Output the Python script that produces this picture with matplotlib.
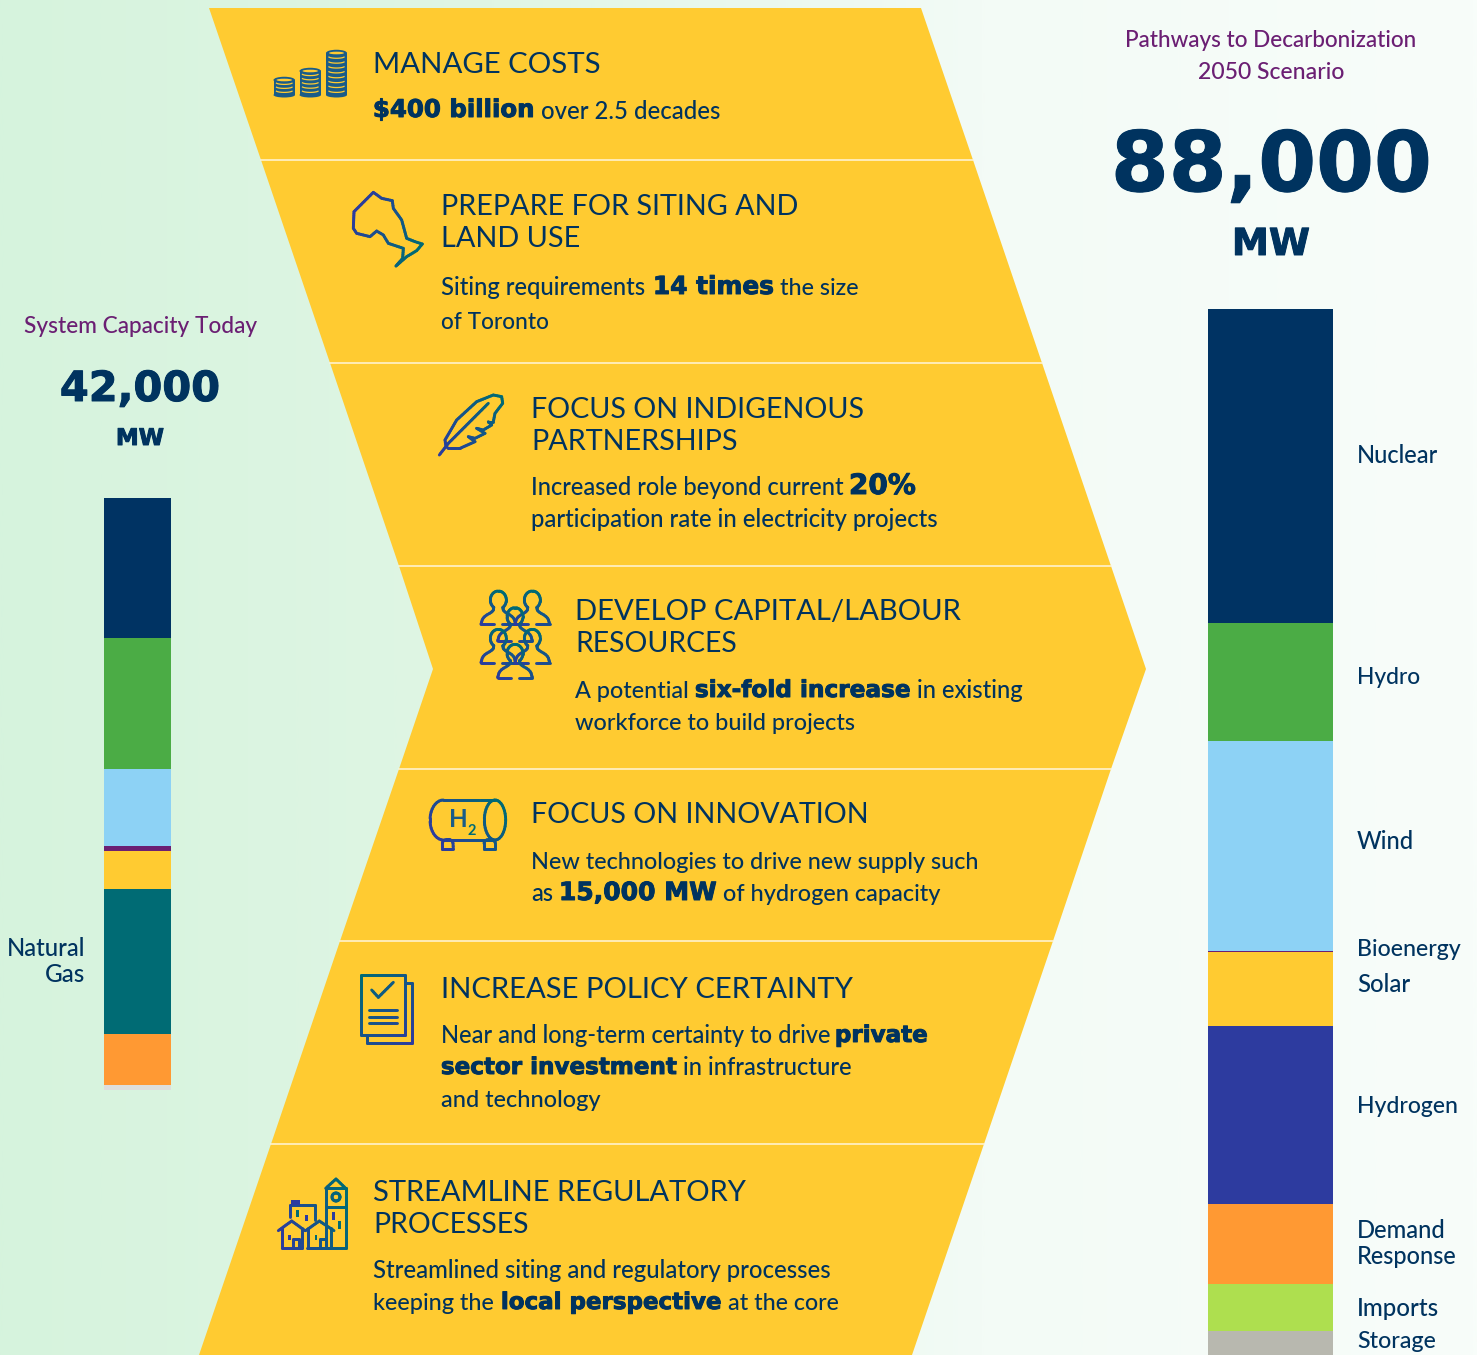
import numpy as np
import matplotlib
matplotlib.use("Agg")
import matplotlib.pyplot as plt
import matplotlib.patheffects as pe
from matplotlib.colors import LinearSegmentedColormap, to_rgb
from matplotlib.collections import LineCollection
from matplotlib.patches import Polygon, Rectangle, Ellipse

# ---------- data ----------
today_sources = ["Nuclear", "Hydro", "Wind", "Bioenergy", "Solar", "Natural Gas", "Demand Response", "Storage"]
today_mw = [9950, 9300, 5450, 350, 2700, 10300, 3600, 350]
future_sources = ["Nuclear", "Hydro", "Wind", "Bioenergy", "Solar", "Hydrogen", "Demand Response", "Imports", "Storage"]
future_mw = [26400, 9950, 17650, 100, 6200, 15000, 6700, 4000, 2000]
today_total_label = "42,000"
future_total_label = "88,000"

# ---------- styles ----------
W, H = 1477, 1355
NAVY = "#00335F"
PURPLE = "#6B1F73"
YELLOW = "#FFCB31"
BLUE = "#2D3B9F"
TEAL = "#006B74"
colors = {"Nuclear": "#003363", "Hydro": "#4BAC45", "Wind": "#8DD2F5", "Bioenergy": PURPLE,
          "Solar": YELLOW, "Natural Gas": TEAL, "Hydrogen": BLUE, "Demand Response": "#FF9933",
          "Imports": "#AEDF4F"}
FONT = "Lato"

fig = plt.figure(figsize=(W / 100, H / 100), dpi=100)

# background gradient
bg = fig.add_axes([0, 0, 1, 1], zorder=0)
cmap = LinearSegmentedColormap.from_list("bg", ["#D6F3DD", "#E0F6E5", "#F3FBF6", "#F8FDFA"])
bg.imshow(np.linspace(0, 1, 512)[None, :], aspect="auto", cmap=cmap, extent=(0, 1, 0, 1))
bg.axis("off")

# pixel-space layer
ax = fig.add_axes([0, 0, 1, 1], zorder=2)
ax.set_xlim(0, W)
ax.set_ylim(H, 0)
ax.axis("off")
ax.patch.set_alpha(0)
renderer = fig.canvas.get_renderer()


def stacked(x0, x1, y0, y1, names, values, storage_color):
    a = fig.add_axes([x0 / W, 1 - y1 / H, (x1 - x0) / W, (y1 - y0) / H], zorder=3)
    bottom = 0
    for n, v in zip(names, values):
        c = storage_color if n == "Storage" else colors[n]
        a.bar(0, v, width=1, bottom=bottom, color=c, linewidth=0)
        bottom += v
    a.set_xlim(-0.5, 0.5)
    a.set_ylim(sum(values), 0)
    a.axis("off")


stacked(104, 171, 498, 1090, today_sources, today_mw, "#DEDEDC")
stacked(1208, 1333, 309, 1355, future_sources, future_mw, "#B8B8AF")

# chevron bands
left_edge = [(209, 8), (261, 160), (330, 363), (399, 566), (433, 669), (399, 769), (340, 941), (271, 1144), (199, 1355)]
right_edge = [(921, 8), (973, 160), (1042, 363), (1111, 566), (1146, 669), (1111, 769), (1053, 941), (984, 1144), (912, 1355)]
ax.add_patch(Polygon(left_edge + right_edge[::-1], closed=True, fc=YELLOW, ec="none", zorder=1))
for i in (1, 2, 3, 5, 6, 7):
    ax.plot([left_edge[i][0], right_edge[i][0]], [left_edge[i][1] - 0.4] * 2, color="#FFF6DA", lw=1.1, zorder=2)


def fit(x0, x1, base, s, guess, color=NAVY, weight="medium", heavy=False):
    t = ax.text(x0 - 0.1, base + 1, s, fontsize=guess, color=color,
                family="DejaVu Sans" if heavy else FONT, fontweight="bold" if heavy else weight,
                ha="left", va="baseline", zorder=6)
    w = t.get_window_extent(renderer).width
    t.set_fontsize(guess * (x1 - x0) / w)
    if heavy:
        t.set_path_effects([pe.withStroke(linewidth=0.7, foreground=color)])
    return t


HEAD, BODY, HEAVY = 20, 16.5, 20

headers = [
    (373, 600, 72, "MANAGE COSTS"),
    (441, 797, 214, "PREPARE FOR SITING AND"), (441, 580, 246, "LAND USE"),
    (531, 863, 417, "FOCUS ON INDIGENOUS"), (531, 737, 449, "PARTNERSHIPS"),
    (575, 960, 619, "DEVELOP CAPITAL/LABOUR"), (575, 736, 651, "RESOURCES"),
    (531, 867, 822, "FOCUS ON INNOVATION"),
    (441, 854, 997, "INCREASE POLICY CERTAINTY"),
    (373, 746, 1200, "STREAMLINE REGULATORY"), (373, 528, 1232, "PROCESSES"),
]
for r in headers:
    fit(*r, HEAD, weight="regular")

body = [
    (541, 719, 118, "over 2.5 decades"),
    (441, 645, 294, "Siting requirements"), (780, 859, 294, "the size"), (441, 549, 328, "of Toronto"),
    (531, 843, 494, "Increased role beyond current"), (531, 938, 526, "participation rate in electricity projects"),
    (575, 689, 697, "A potential"), (917, 1023, 697, "in existing"), (575, 855, 729, "workforce to build projects"),
    (531, 978, 868, "New technologies to drive new supply such"), (531, 553, 900, "as"), (723, 940, 900, "of hydrogen capacity"),
    (441, 829, 1042, "Near and long-term certainty to drive"), (683, 852, 1074, "in infrastructure"), (441, 600, 1106, "and technology"),
    (373, 831, 1277, "Streamlined siting and regulatory processes"), (373, 494, 1309, "keeping the"), (728, 839, 1309, "at the core"),
]
for r in body:
    fit(*r, BODY)

heavy = [
    (373, 535, 116, "$400 billion"), (653, 774, 293, "14 times"), (849, 916, 493, "20%"),
    (695, 911, 696, "six-fold increase"), (559, 717, 899, "15,000 MW"), (835, 928, 1041, "private"),
    (441, 677, 1073, "sector investment"), (501, 722, 1308, "local perspective"),
]
for r in heavy:
    fit(*r, HEAVY, heavy=True)

# side titles
fit(24, 257, 332, "System Capacity Today", 16.5, PURPLE)
fit(60, 220, 400, today_total_label, 30, heavy=True)
fit(116, 164, 444, "MW", 18, heavy=True)
fit(1125, 1417, 46, "Pathways to Decarbonization", 16.5, PURPLE)
fit(1198, 1344, 78, "2050 Scenario", 16.5, PURPLE)
fit(1111, 1432, 190, future_total_label, 60, heavy=True)
fit(1232, 1310, 254, "MW", 30, heavy=True)

# source labels
today_labels = ["Natural", "Gas"]
today_label_pos = [(7, 85, 955), (45, 85, 981)]
future_labels = ["Nuclear", "Hydro", "Wind", "Bioenergy", "Solar", "Hydrogen", "Demand", "Response", "Imports", "Storage"]
future_label_pos = [(1357, 1438, 462), (1357, 1420, 683), (1357, 1414, 848), (1357, 1461, 955), (1357, 1410, 991),
                    (1357, 1458, 1112), (1357, 1445, 1237), (1357, 1457, 1263), (1357, 1439, 1315), (1357, 1436, 1347)]
for s, p in zip(today_labels + future_labels, today_label_pos + future_label_pos):
    fit(*p, s, 16.5)


# ---------- icons ----------
c0, c1 = np.array(to_rgb(BLUE)), np.array(to_rgb(TEAL))


def chaikin(p, n=2):
    p = np.asarray(p, float)
    for _ in range(n):
        l = np.stack([0.75 * p[:-1] + 0.25 * p[1:], 0.25 * p[:-1] + 0.75 * p[1:]], 1).reshape(-1, 2)
        p = np.vstack([p[:1], l, p[-1:]])
    return p


def icon(paths, origin, direction, lw=2.1, scale=3.0, z=5):
    """Draw polylines given in zoom-pixels, coloured with a blue-to-teal gradient."""
    o = np.array(origin, float)
    d = np.array(direction, float)
    P = [o + np.asarray(p, float) / scale for p in paths]
    allp = np.vstack(P)
    pr = allp @ d
    lo, hi = pr.min(), pr.max()
    segs, cols = [], []
    for p in P:
        for a, b in zip(p[:-1], p[1:]):
            n = max(1, int(np.hypot(*(b - a)) / 2))
            for k in range(n):
                s0 = a + (b - a) * k / n
                s1 = a + (b - a) * (k + 1) / n
                t = (((s0 + s1) / 2) @ d - lo) / (hi - lo)
                segs.append([s0, s1])
                cols.append(c0 * (1 - t) + c1 * t)
    ax.add_collection(LineCollection(segs, colors=cols, linewidths=lw, capstyle="round", joinstyle="round", zorder=z))


def ell(cx, cy, rx, ry, a0=0, a1=360, n=40):
    t = np.radians(np.linspace(a0, a1, n))
    return np.c_[cx + rx * np.cos(t), cy + ry * np.sin(t)]


# coins
coin_col = "#1A5C88"
for x0, x1, top, nl in [(273.5, 295, 77, 3), (299.5, 321, 68, 5), (326, 347, 50, 8)]:
    cx, rx = (x0 + x1) / 2, (x1 - x0) / 2
    ax.add_patch(Rectangle((x0, top + 3), x1 - x0, 97 - top - 5, fc=coin_col, ec="none", zorder=4))
    ax.add_patch(Ellipse((cx, 95), 2 * rx, 5, fc=coin_col, ec="none", zorder=4))
    ax.add_patch(Ellipse((cx, top + 3), 2 * rx, 6.5, fc=coin_col, ec="none", zorder=4))
    ax.add_patch(Ellipse((cx, top + 3), 2 * rx - 6, 2.6, fc=YELLOW, ec="none", zorder=5))
    step = (97 - top - 8) / nl
    for k in range(1, nl + 1):
        y = top + 3 + k * step
        arc = ell(cx, y - 1.4, rx - 2.5, 1.8, 20, 160, 12)
        ax.plot(arc[:, 0], arc[:, 1], color=YELLOW, lw=0.9, zorder=5)

# Ontario
ont = [(340, 487), (282, 545), (280, 595), (290, 610), (330, 620), (350, 603), (370, 615), (385, 640), (430, 655),
       (428, 685), (408, 708), (440, 680), (470, 662), (487, 642), (465, 635), (440, 625), (425, 570), (400, 535),
       (397, 512), (365, 505), (340, 487)]
icon([ont], (260, 30), (1, 0.55))

# feather
feather_out = [(78, 200), (75, 180), (110, 120), (170, 65), (220, 45), (245, 50), (248, 70), (225, 100), (220, 125),
               (205, 125), (215, 135), (190, 150), (170, 145), (195, 160), (165, 175), (145, 170), (165, 185),
               (120, 205), (85, 205), (78, 200)]
icon([feather_out, [(58, 225), (85, 190), (205, 70)]], (420, 380), (1, -0.7))


# people
def person(cx, cy, base=73, half=52):
    s = ell(cx, cy, 24, 27, 125, 415, 30)
    left = chaikin([(cx - half, cy + base), (cx - half + 6, cy + base - 22), (cx - 15, cy + 34), (cx - 14, cy + 22)])
    right = chaikin([(cx + 14, cy + 22), (cx + 15, cy + 34), (cx + half - 6, cy + base - 22), (cx + half, cy + base)])
    outline = np.vstack([left, s, right])
    o = np.array((420, 380), float)
    ax.add_patch(Polygon(o + outline / 3, closed=True, fc=YELLOW, ec="none", zorder=4))
    icon([outline, [(cx - half, cy + base), (cx - half + 40, cy + base)], [(cx + half - 40, cy + base), (cx + half, cy + base)]],
         (420, 380), (0.5, -1))


for c in [(235, 660), (337, 660), (285, 710), (235, 775), (337, 775), (285, 820)]:
    person(*c)

# hydrogen tank
body_top = [(465, 30), (310, 30)]
icon([np.vstack([body_top, ell(310, 90, 40, 60, 270, 90, 20)[1:], [(465, 150)]]),
      ell(465, 90, 32, 60),
      np.vstack([[(307, 177)], ell(323, 160, 16, 12, 180, 360, 10), [(340, 177), (307, 177)]]),
      np.vstack([[(432, 177)], ell(449, 160, 17, 12, 180, 360, 10), [(466, 177), (432, 177)]])],
     (340, 790), (1, -0.8))
ax.text(449, 827, "H", fontsize=17.5, color="#1A5C88", family=FONT, fontweight="bold", ha="left", va="baseline", zorder=6)
ax.text(468, 835, "2", fontsize=10.5, color=TEAL, family=FONT, fontweight="bold", ha="left", va="baseline", zorder=6)

# document
doc = [[(195, 735), (62, 735), (62, 555), (195, 555), (195, 735)],
       [(195, 578), (217, 578), (217, 758), (80, 758), (80, 735)],
       [(95, 600), (115, 622), (160, 577)],
       [(88, 660), (170, 660)], [(88, 680), (170, 680)], [(88, 700), (170, 700)]]
icon(doc, (340, 790), (-1, -0.9))

# town
town = [[(197, 248), (197, 70), (228, 42), (257, 70), (257, 248), (140, 248)], [(197, 70), (257, 70)], [(197, 125), (257, 125)],
        ell(228, 96, 12, 12), [(90, 155), (90, 120), (165, 120), (165, 165)],
        [(55, 197), (95, 168), (135, 197)], [(65, 190), (65, 248), (125, 248), (125, 190)],
        [(100, 248), (100, 222), (118, 222), (118, 248)], [(137, 197), (178, 168), (222, 197)],
        [(145, 190), (145, 248), (212, 248), (212, 190)], [(180, 248), (180, 222), (198, 222), (198, 248)]]
icon(town, (260, 1165), (1, -0.2))
for (x, y, w, h, col) in [(93, 105, 27, 15, BLUE), (109, 135, 7, 21, TEAL), (136, 150, 7, 17, BLUE), (217, 141, 7, 23, BLUE),
                          (235, 168, 7, 23, TEAL), (85, 210, 7, 15, BLUE), (164, 210, 7, 15, TEAL)]:
    ax.add_patch(Rectangle((260 + x / 3, 1165 + y / 3), w / 3, h / 3, fc=col, ec="none", zorder=5))

fig.savefig("out.png", dpi=100)
